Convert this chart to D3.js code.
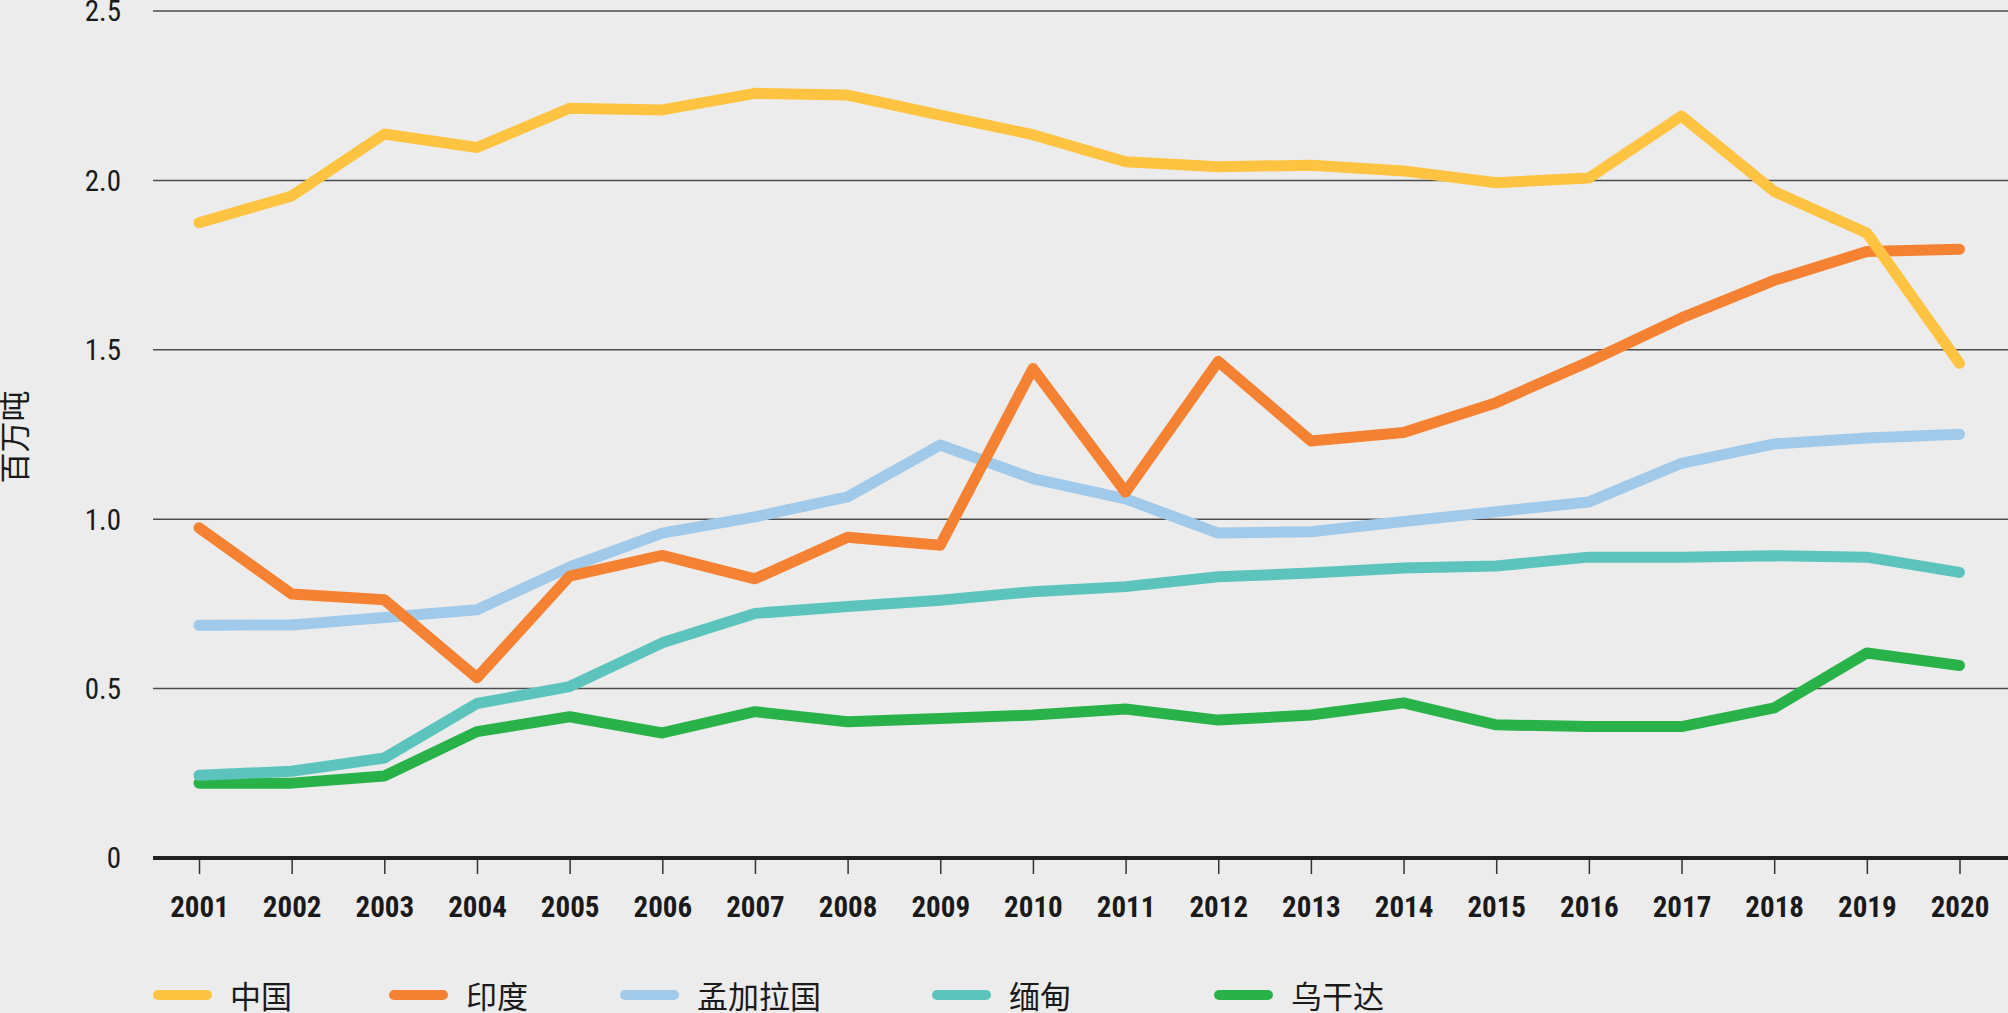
<!DOCTYPE html>
<html>
<head>
<meta charset="utf-8">
<script src="https://cdn.jsdelivr.net/npm/d3@7"></script>
<style>
  html, body { margin: 0; padding: 0; background: #ececec; }
  svg { display: block; }
</style>
</head>
<body>
<svg id="chart" width="2008" height="1013"></svg>
<script>
// ---- data ----
const years = [2001,2002,2003,2004,2005,2006,2007,2008,2009,2010,2011,2012,2013,2014,2015,2016,2017,2018,2019,2020];
const seriesNames = ["中国", "印度", "孟加拉国", "缅甸", "乌干达"];
const china      = [1.875,1.954,2.137,2.097,2.213,2.208,2.257,2.252,2.193,2.135,2.055,2.040,2.045,2.028,1.993,2.007,2.190,1.967,1.845,1.460];
const india      = [0.975,0.779,0.762,0.532,0.832,0.893,0.824,0.947,0.923,1.445,1.080,1.466,1.231,1.256,1.344,1.465,1.594,1.705,1.790,1.797];
const bangladesh = [0.687,0.688,0.710,0.733,0.859,0.959,1.007,1.066,1.219,1.120,1.060,0.959,0.963,0.993,1.022,1.051,1.165,1.222,1.240,1.251];
const myanmar    = [0.244,0.256,0.295,0.456,0.506,0.635,0.722,0.742,0.761,0.786,0.801,0.830,0.841,0.856,0.862,0.888,0.888,0.892,0.888,0.843];
const uganda     = [0.221,0.221,0.242,0.373,0.417,0.369,0.432,0.402,0.412,0.422,0.440,0.407,0.422,0.458,0.393,0.388,0.388,0.443,0.605,0.568];
const yTicks = [0, 0.5, 1.0, 1.5, 2.0, 2.5];
const yTickLabels = ["0", "0.5", "1.0", "1.5", "2.0", "2.5"];
const yTitle = "百万吨";

// ---- styling / layout ----
const colors = ["#FEC340", "#F58232", "#A0C9EA", "#5CC4BC", "#2AB24A"];
const allValues = [china, india, bangladesh, myanmar, uganda];
const latinFont = "'Liberation Sans Narrow', 'Roboto Condensed', 'Liberation Sans', Roboto, sans-serif";
const cjkFont = "'Noto Sans CJK SC', 'Noto Sans', sans-serif";

const svg = d3.select("#chart");
svg.append("rect").attr("width", 2008).attr("height", 1013).attr("fill", "#ececec");

const plotLeft = 153, plotRight = 2008;
const x = d3.scaleLinear().domain([2001, 2020]).range([199, 1959.5]);
const y = d3.scaleLinear().domain([0, 2.5]).range([858, 11]);

// gridlines
svg.append("g").selectAll("line")
  .data(yTicks.filter(d => d > 0))
  .join("line")
  .attr("x1", plotLeft).attr("x2", plotRight)
  .attr("y1", d => y(d)).attr("y2", d => y(d))
  .attr("stroke", "#4d4d4d").attr("stroke-width", 1.5);

// y tick labels
svg.append("g").selectAll("text")
  .data(yTicks)
  .join("text")
  .attr("x", 121)
  .attr("y", d => y(d))
  .attr("dy", "0.36em")
  .attr("text-anchor", "end")
  .attr("font-family", latinFont)
  .attr("font-size", 29)
  .attr("fill", "#1a1a1a")
  .text((d, i) => yTickLabels[i]);

// y title
svg.append("text")
  .attr("transform", "translate(15,437) rotate(-90)")
  .attr("text-anchor", "middle")
  .attr("dy", "0.36em")
  .attr("font-family", cjkFont)
  .attr("font-size", 31)
  .attr("fill", "#1a1a1a")
  .text(yTitle);

// x axis
const xAxis = d3.axisBottom(x)
  .tickValues(years)
  .tickFormat(d3.format("d"))
  .tickSize(16)
  .tickSizeOuter(0)
  .tickPadding(22);
const gx = svg.append("g").attr("transform", `translate(0,${y(0)})`).call(xAxis);
gx.select(".domain").remove();
gx.selectAll(".tick line").attr("stroke", "#333").attr("stroke-width", 1.5);
gx.selectAll(".tick text")
  .attr("font-family", latinFont)
  .attr("font-weight", "bold")
  .attr("font-size", 29)
  .attr("fill", "#1a1a1a");
svg.append("line")
  .attr("x1", plotLeft).attr("x2", plotRight)
  .attr("y1", y(0)).attr("y2", y(0))
  .attr("stroke", "#222").attr("stroke-width", 4);

// lines (drawn last series first so China sits on top)
const line = d3.line()
  .x((d, i) => x(years[i]))
  .y(d => y(d));
const order = [4, 3, 2, 1, 0];
svg.append("g").selectAll("path")
  .data(order)
  .join("path")
  .attr("d", k => line(allValues[k]))
  .attr("fill", "none")
  .attr("stroke", k => colors[k])
  .attr("stroke-width", 11)
  .attr("stroke-linecap", "round")
  .attr("stroke-linejoin", "round");

// legend
const legendX = [153, 389, 620, 932, 1214];
const legendY = 995;
const lg = svg.append("g").selectAll("g")
  .data(seriesNames)
  .join("g")
  .attr("transform", (d, i) => `translate(${legendX[i]},${legendY})`);
lg.append("line")
  .attr("x1", 5).attr("x2", 54)
  .attr("y1", 0).attr("y2", 0)
  .attr("stroke", (d, i) => colors[i])
  .attr("stroke-width", 10)
  .attr("stroke-linecap", "round");
lg.append("text")
  .attr("x", 77)
  .attr("y", 2)
  .attr("dy", "0.36em")
  .attr("font-family", cjkFont)
  .attr("font-size", 31)
  .attr("fill", "#1a1a1a")
  .text(d => d);
</script>
</body>
</html>
